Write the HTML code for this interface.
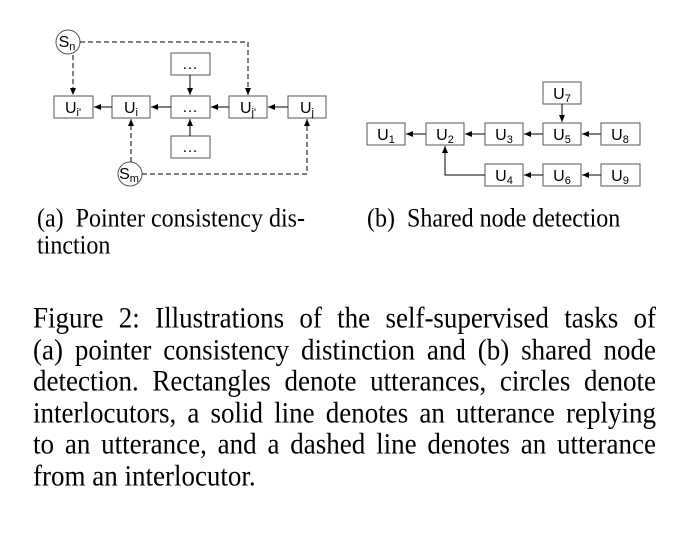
<!DOCTYPE html>
<html><head><meta charset="utf-8"><style>
body{margin:0;width:685px;height:557px;background:#fff;position:relative;overflow:hidden;font-family:"Liberation Serif",serif;color:#000}
.l{position:absolute;left:33px;width:623px;font-size:27px;line-height:30px;white-space:nowrap;text-align:justify;text-align-last:justify;transform:scaleY(1.08);transform-origin:0 50%}
.c{position:absolute;font-size:24px;line-height:26px;white-space:nowrap;transform:scaleY(1.08);transform-origin:0 50%}
svg text{font-family:"Liberation Sans",sans-serif;font-size:16px}
</style></head><body>
<svg width="685" height="200" style="position:absolute;left:0;top:0">
<defs><marker id="a" markerWidth="8" markerHeight="8" refX="7" refY="4" orient="auto" markerUnits="userSpaceOnUse"><path d="M0,1 L7,4 L0,7z" fill="#000"/></marker></defs>
<g fill="#fff" stroke="#555" stroke-width="1">
<rect x="54" y="96" width="39" height="22"/><rect x="112" y="96" width="38" height="22"/>
<rect x="171" y="96" width="39" height="22"/><rect x="229" y="96" width="38" height="22"/>
<rect x="288" y="96" width="38" height="22"/><rect x="171" y="53" width="39" height="22"/>
<rect x="171" y="136" width="39" height="22"/>
<circle cx="68" cy="42" r="12"/><circle cx="130" cy="174" r="12"/>
<rect x="367" y="123" width="38" height="22"/><rect x="426" y="123" width="38" height="22"/>
<rect x="485" y="123" width="38" height="22"/><rect x="543" y="123" width="38" height="22"/>
<rect x="601" y="123" width="39" height="22"/><rect x="543" y="82" width="38" height="22"/>
<rect x="485" y="164" width="38" height="22"/><rect x="543" y="164" width="38" height="22"/>
<rect x="601" y="164" width="39" height="22"/>
</g>
<g stroke="#000" stroke-width="1" fill="none" marker-end="url(#a)">
<path d="M112 107H94"/><path d="M171 107H151"/><path d="M229 107H211"/><path d="M288 107H268"/>
<path d="M190 75V95"/><path d="M190 136V119"/>
<path d="M426 134H406"/><path d="M485 134H465"/><path d="M543 134H524"/><path d="M601 134H582"/>
<path d="M562 104V122"/><path d="M485 175H445V146"/><path d="M543 175H524"/><path d="M601 175H582"/>
</g>
<g stroke="#000" stroke-width="1" fill="none" stroke-dasharray="5,3" marker-end="url(#a)">
<path d="M80 42H248V95"/><path d="M73 55V95"/><path d="M131 162V119"/><path d="M142 174H307V119"/>
</g>
<g text-anchor="middle">
<text x="73" y="113">U<tspan font-size="11" dy="3">i'</tspan></text>
<text x="131" y="113">U<tspan font-size="11" dy="3">i</tspan></text>
<text x="190" y="112">…</text><text x="190" y="69">…</text><text x="190" y="152">…</text>
<text x="248" y="113">U<tspan font-size="11" dy="3">j'</tspan></text>
<text x="307" y="113">U<tspan font-size="11" dy="3">j</tspan></text>
<text x="67" y="47">S<tspan font-size="11" dy="3">n</tspan></text>
<text x="129" y="179">S<tspan font-size="11" dy="3">m</tspan></text>
<text x="386" y="140">U<tspan font-size="11" dy="3">1</tspan></text>
<text x="445" y="140">U<tspan font-size="11" dy="3">2</tspan></text>
<text x="504" y="140">U<tspan font-size="11" dy="3">3</tspan></text>
<text x="562" y="140">U<tspan font-size="11" dy="3">5</tspan></text>
<text x="620" y="140">U<tspan font-size="11" dy="3">8</tspan></text>
<text x="562" y="99">U<tspan font-size="11" dy="3">7</tspan></text>
<text x="504" y="181">U<tspan font-size="11" dy="3">4</tspan></text>
<text x="562" y="181">U<tspan font-size="11" dy="3">6</tspan></text>
<text x="620" y="181">U<tspan font-size="11" dy="3">9</tspan></text>
</g>
</svg>
<div class="c" style="left:37px;top:206px">(a)&nbsp; Pointer consistency dis-</div>
<div class="c" style="left:37px;top:233px">tinction</div>
<div class="c" style="left:367px;top:206px">(b)&nbsp; Shared node detection</div>
<div class="l" style="top:303px">Figure 2: Illustrations of the self-supervised tasks of</div>
<div class="l" style="top:335px">(a) pointer consistency distinction and (b) shared node</div>
<div class="l" style="top:366px">detection. Rectangles denote utterances, circles denote</div>
<div class="l" style="top:398px">interlocutors, a solid line denotes an utterance replying</div>
<div class="l" style="top:429px">to an utterance, and a dashed line denotes an utterance</div>
<div class="l" style="top:461px;text-align-last:left">from an interlocutor.</div>
</body></html>
